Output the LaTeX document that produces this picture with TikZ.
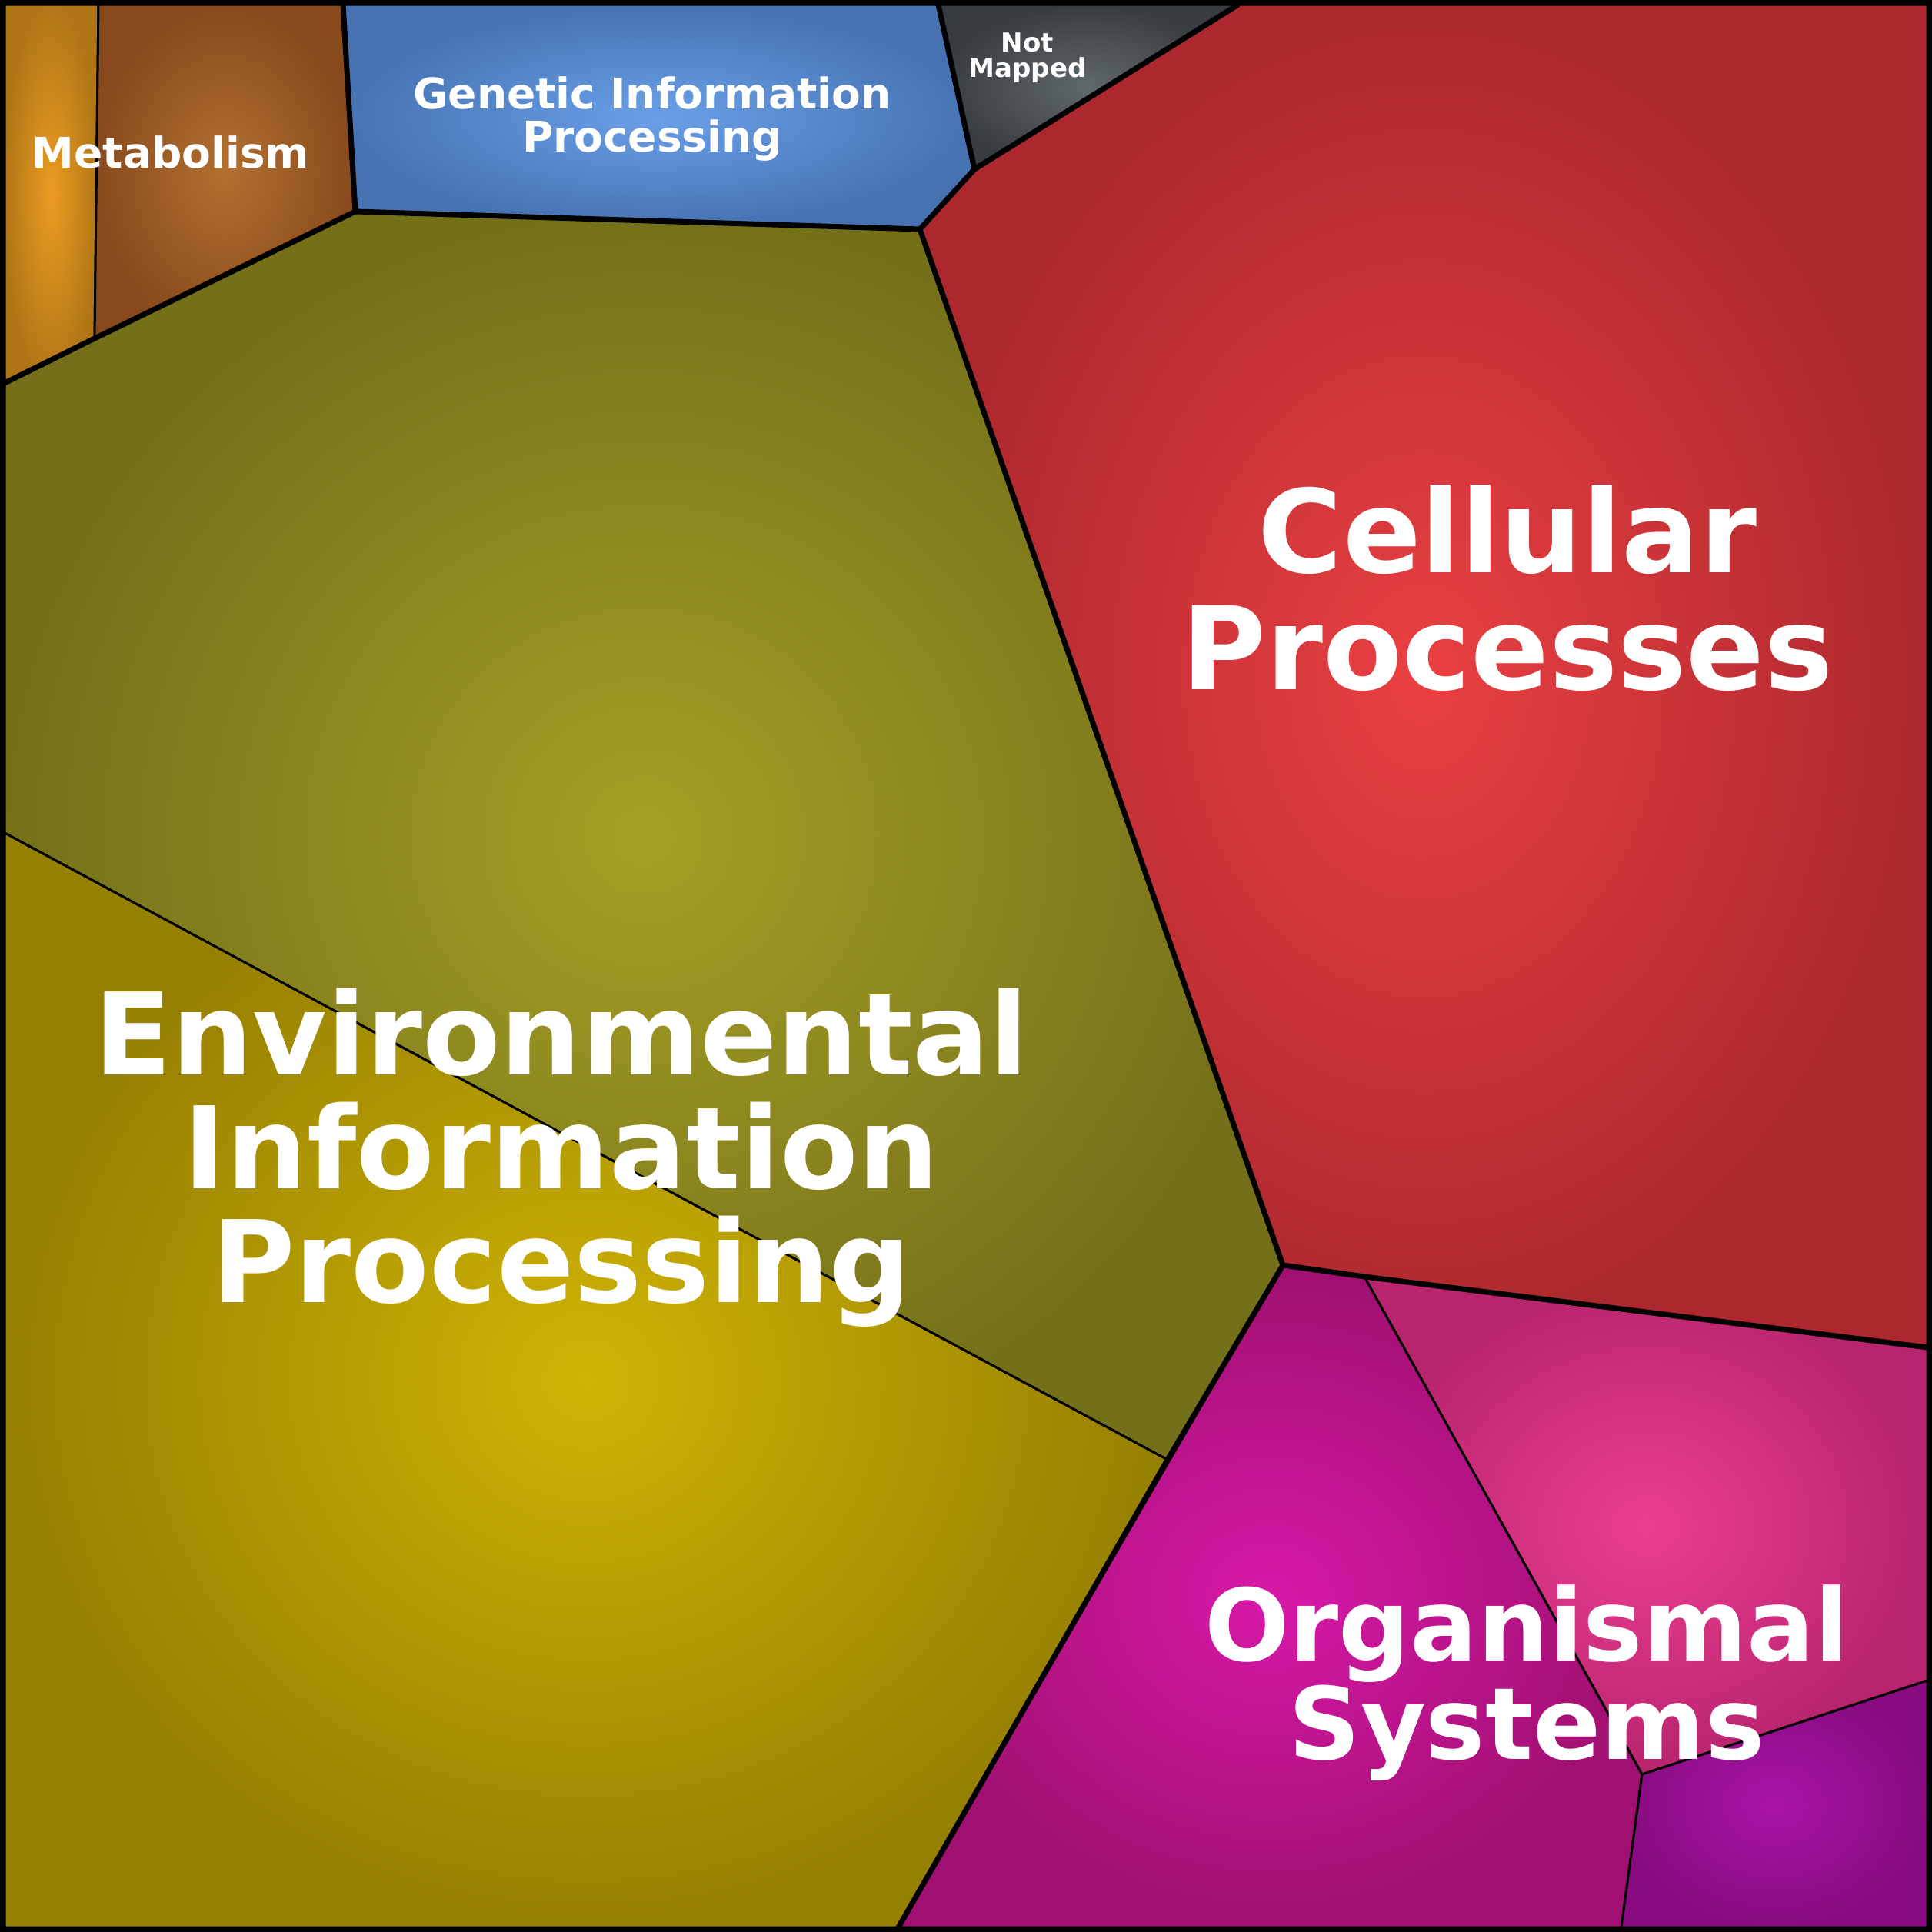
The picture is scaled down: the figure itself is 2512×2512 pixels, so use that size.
\documentclass[tikz,border=0pt]{standalone}
\usepackage{fontspec}
\setmainfont{DejaVu Sans}
\begin{document}
\begin{tikzpicture}[x=1pt,y=-1pt,
  cell/.style={shading=radial,draw=black,line width=3pt},
  lab/.style={text=white,font=\bfseries,align=center}]
\useasboundingbox (0,0) rectangle (2512,2512);
\fill[black] (0,0) rectangle (2512,2512);
% Metabolism
\shade[cell,inner color={rgb,255:red,236;green,156;blue,34},outer color={rgb,255:red,176;green,118;blue,22}] (6,6)--(128,6)--(123,440)--(6,498)--cycle;
\shade[cell,inner color={rgb,255:red,178;green,112;blue,48},outer color={rgb,255:red,136;green,74;blue,28}] (128,6)--(446,6)--(462,275)--(123,440)--cycle;
% Genetic
\shade[cell,inner color={rgb,255:red,106;green,160;blue,232},outer color={rgb,255:red,70;green,114;blue,178}] (446,6)--(1220,6)--(1267,220)--(1196,298)--(462,275)--cycle;
% Not mapped
\shade[cell,inner color={rgb,255:red,96;green,104;blue,108},outer color={rgb,255:red,56;green,60;blue,64}] (1220,6)--(1610,6)--(1267,220)--cycle;
% Cellular
\shade[cell,inner color={rgb,255:red,234;green,64;blue,66},outer color={rgb,255:red,172;green,40;blue,46}] (1610,6)--(2506,6)--(2506,1752)--(1668,1645)--(1196,298)--(1267,220)--cycle;
% Environmental
\shade[cell,inner color={rgb,255:red,166;green,160;blue,36},outer color={rgb,255:red,116;green,112;blue,26}] (6,498)--(462,275)--(1196,298)--(1668,1645)--(1518,1898)--(6,1083)--cycle;
\shade[cell,inner color={rgb,255:red,208;green,180;blue,4},outer color={rgb,255:red,150;green,128;blue,2}] (6,1083)--(1518,1898)--(1168,2506)--(6,2506)--cycle;
% Organismal
\shade[cell,inner color={rgb,255:red,216;green,24;blue,168},outer color={rgb,255:red,160;green,16;blue,112}] (1668,1645)--(1774,1660)--(2135,2307)--(2108,2506)--(1168,2506)--cycle;
\shade[cell,inner color={rgb,255:red,236;green,62;blue,146},outer color={rgb,255:red,184;green,36;blue,110}] (1774,1660)--(2506,1752)--(2506,2185)--(2135,2307)--cycle;
\shade[cell,inner color={rgb,255:red,168;green,20;blue,168},outer color={rgb,255:red,136;green,12;blue,128}] (2135,2307)--(2506,2185)--(2506,2506)--(2108,2506)--cycle;
% thick group borders
\draw[line width=7pt,line join=round] (6,498)--(123,440)--(462,275)--(446,6);
\draw[line width=7pt,line join=round] (462,275)--(1196,298)--(1267,220)--(1220,6);
\draw[line width=7pt,line join=round] (1267,220)--(1610,6);
\draw[line width=7pt,line join=round] (1196,298)--(1668,1645)--(1774,1660)--(2506,1752);
\draw[line width=7pt,line join=round] (1668,1645)--(1518,1898)--(1168,2506);
\draw[line width=12pt] (0,0) rectangle (2512,2512);
% labels
\node[lab,font=\bfseries\fontsize{55}{56}\selectfont] (met) at (222,198) {Metabolism};
\node[lab,font=\bfseries\fontsize{55}{56}\selectfont] (gen) at (848,155) {Genetic Information\\Processing};
\node[lab,font=\bfseries\fontsize{34}{33}\selectfont] (nm) at (1336,75) {Not\\Mapped};
\node[lab,font=\bfseries\fontsize{150}{152}\selectfont] (cel) at (1960,765) {Cellular\\Processes};
\node[lab,font=\bfseries\fontsize{148}{148}\selectfont] (env) at (730,1505) {Environmental\\Information\\Processing};
\node[lab,font=\bfseries\fontsize{130}{128}\selectfont] (org) at (1985,2188) {Organismal\\Systems};
\end{tikzpicture}
\end{document}
